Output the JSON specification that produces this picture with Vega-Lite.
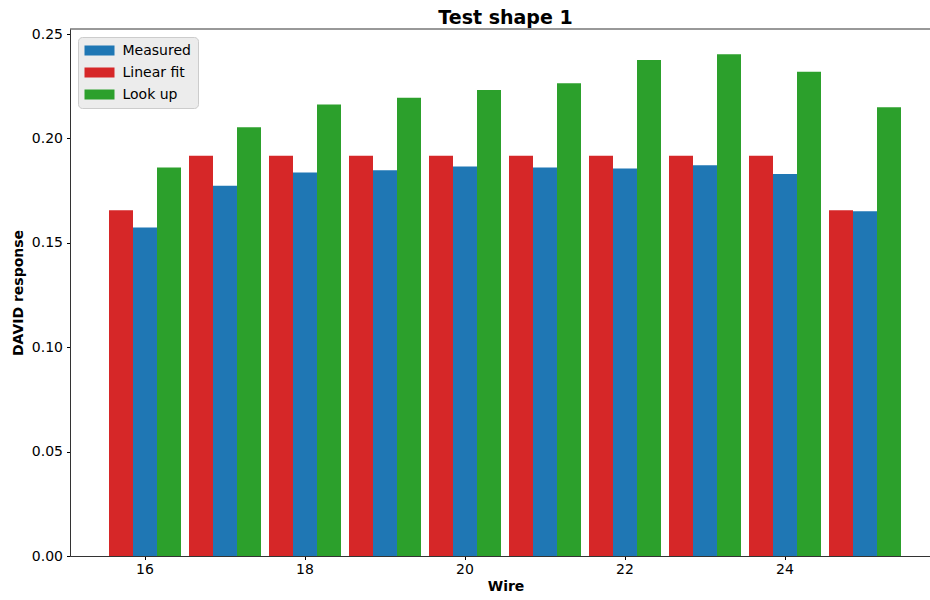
{
  "$schema": "https://vega.github.io/schema/vega-lite/v6.json",
  "width": 860,
  "height": 527,
  "autosize": {"type": "none"},
  "padding": {"left": 70, "top": 29, "right": 0, "bottom": 44},
  "background": "white",
  "title": {"text": "Test shape 1", "font": "DejaVu Sans", "fontSize": 19, "fontWeight": "bold", "color": "#000000", "anchor": "middle", "frame": "group", "baseline": "alphabetic", "offset": 6, "dx": 5.5, "dy": 22},
  "data": {"values": [
    {"wire": 16, "series": "Measured", "value": 0.1573},
    {"wire": 16, "series": "Linear fit", "value": 0.1656},
    {"wire": 16, "series": "Look up", "value": 0.1861},
    {"wire": 17, "series": "Measured", "value": 0.1773},
    {"wire": 17, "series": "Linear fit", "value": 0.1917},
    {"wire": 17, "series": "Look up", "value": 0.2054},
    {"wire": 18, "series": "Measured", "value": 0.1837},
    {"wire": 18, "series": "Linear fit", "value": 0.1917},
    {"wire": 18, "series": "Look up", "value": 0.2162},
    {"wire": 19, "series": "Measured", "value": 0.1848},
    {"wire": 19, "series": "Linear fit", "value": 0.1917},
    {"wire": 19, "series": "Look up", "value": 0.2195},
    {"wire": 20, "series": "Measured", "value": 0.1866},
    {"wire": 20, "series": "Linear fit", "value": 0.1917},
    {"wire": 20, "series": "Look up", "value": 0.2232},
    {"wire": 21, "series": "Measured", "value": 0.1861},
    {"wire": 21, "series": "Linear fit", "value": 0.1917},
    {"wire": 21, "series": "Look up", "value": 0.2264},
    {"wire": 22, "series": "Measured", "value": 0.1856},
    {"wire": 22, "series": "Linear fit", "value": 0.1917},
    {"wire": 22, "series": "Look up", "value": 0.2375},
    {"wire": 23, "series": "Measured", "value": 0.1871},
    {"wire": 23, "series": "Linear fit", "value": 0.1917},
    {"wire": 23, "series": "Look up", "value": 0.2403},
    {"wire": 24, "series": "Measured", "value": 0.1829},
    {"wire": 24, "series": "Linear fit", "value": 0.1917},
    {"wire": 24, "series": "Look up", "value": 0.2319},
    {"wire": 25, "series": "Measured", "value": 0.1651},
    {"wire": 25, "series": "Linear fit", "value": 0.1656},
    {"wire": 25, "series": "Look up", "value": 0.2149}
  ]},
  "layer": [
    {
      "mark": {"type": "bar"},
      "encoding": {
        "x": {
          "field": "wire", "type": "ordinal",
          "scale": {"range": [0, 870], "paddingInner": 0.1, "paddingOuter": 0.4875},
          "axis": {
            "values": [16, 18, 20, 22, 24], "labelAngle": 0,
            "title": "Wire", "titleFont": "DejaVu Sans", "titleFontSize": 14, "titleFontWeight": "bold", "titleColor": "#000000",
            "titleX": 435.5, "titleY": 34, "titleBaseline": "alphabetic", "titleAlign": "center",
            "labelFont": "DejaVu Sans", "labelFontSize": 14, "labelColor": "#000000", "labelPadding": 3,
            "tickSize": 3.5, "tickColor": "#000000", "domainColor": "#333333", "grid": false
          }
        },
        "xOffset": {
          "field": "series", "type": "nominal",
          "scale": {"domain": ["Linear fit", "Measured", "Look up"], "paddingInner": 0, "paddingOuter": 0}
        },
        "y": {
          "field": "value", "type": "quantitative",
          "scale": {"domain": [0, 0.2524], "nice": false, "zero": true},
          "axis": {
            "values": [0, 0.05, 0.1, 0.15, 0.2, 0.25], "format": ".2f",
            "title": "DAVID response", "titleFont": "DejaVu Sans", "titleFontSize": 14, "titleFontWeight": "bold", "titleColor": "#000000",
            "titleX": -48, "titleY": 263.5, "titleAngle": -90, "titleBaseline": "alphabetic", "titleAlign": "center",
            "labelFont": "DejaVu Sans", "labelFontSize": 14, "labelColor": "#000000", "labelPadding": 4,
            "tickSize": 3.5, "tickColor": "#000000", "domainColor": "#333333", "grid": false
          }
        },
        "color": {
          "field": "series", "type": "nominal",
          "scale": {"domain": ["Measured", "Linear fit", "Look up"], "range": ["#1f77b4", "#d62728", "#2ca02c"]},
          "legend": {
            "title": null, "orient": "top-left", "offset": 8,
            "fillColor": "#ececec", "strokeColor": "#cccccc", "cornerRadius": 4, "padding": 6.5,
            "symbolType": "M-3,-1H3V1H-3Z", "symbolSize": 100, "symbolStrokeWidth": 0, "symbolOffset": 8,
            "labelFont": "DejaVu Sans", "labelFontSize": 14, "labelColor": "#000000", "labelOffset": 16, "rowPadding": 8
          }
        }
      }
    },
    {
      "data": {"values": [{}]},
      "mark": {"type": "rule", "color": "#333333", "strokeWidth": 1},
      "encoding": {"y": {"datum": 0.2524}}
    }
  ],
  "config": {"view": {"stroke": null}, "font": "DejaVu Sans"}
}
